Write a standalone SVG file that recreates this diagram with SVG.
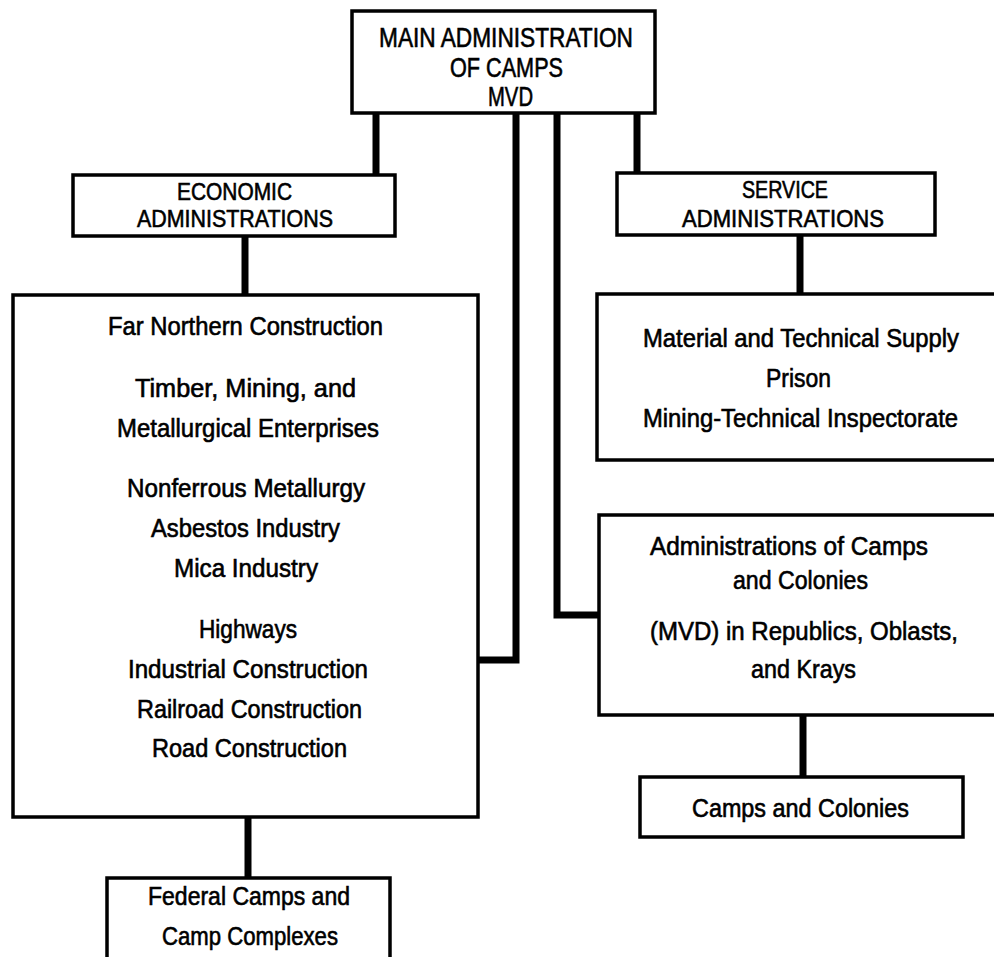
<svg xmlns="http://www.w3.org/2000/svg" width="994" height="957" viewBox="0 0 994 957">
<style>
.box{fill:#fff;stroke:#000;stroke-width:3.5}
.con{fill:none;stroke:#000;stroke-width:7;stroke-linejoin:miter;stroke-linecap:butt}
text{font-family:"Liberation Sans Narrow","Liberation Sans",Arial,sans-serif;fill:#000;stroke:#000;stroke-width:0.6;text-anchor:middle}
.cap{font-size:27px}
.cap2{font-size:24px}
.lc{font-size:25px}
</style>
<rect width="994" height="957" fill="#fff"/>
<g id="connectors">
<path class="con" d="M376,113 V175"/>
<path class="con" d="M637,113 V173"/>
<path class="con" d="M516,113 V660 H478"/>
<path class="con" d="M557,113 V615 H599"/>
<path class="con" d="M245,236 V295"/>
<path class="con" d="M248,817 V878"/>
<path class="con" d="M800,236 V294"/>
<path class="con" d="M803,715 V777"/>
</g>
<g id="main">
<rect class="box" x="352" y="11" width="303" height="102"/>
<text class="cap" x="506" y="47" textLength="254" lengthAdjust="spacingAndGlyphs">MAIN ADMINISTRATION</text>
<text class="cap" x="506.5" y="77" textLength="113" lengthAdjust="spacingAndGlyphs">OF CAMPS</text>
<text class="cap" x="510.5" y="106" textLength="45" lengthAdjust="spacingAndGlyphs">MVD</text>
</g>
<g id="economic">
<rect class="box" x="73" y="175" width="322" height="61"/>
<text class="cap2" x="234.5" y="200" textLength="115" lengthAdjust="spacingAndGlyphs">ECONOMIC</text>
<text class="cap2" x="235" y="227" textLength="196" lengthAdjust="spacingAndGlyphs">ADMINISTRATIONS</text>
</g>
<g id="service">
<rect class="box" x="617" y="173" width="318" height="62"/>
<text class="cap2" x="785" y="198" textLength="86" lengthAdjust="spacingAndGlyphs">SERVICE</text>
<text class="cap2" x="783" y="227" textLength="202" lengthAdjust="spacingAndGlyphs">ADMINISTRATIONS</text>
</g>
<g id="enterprises">
<rect class="box" x="13" y="295" width="465" height="522"/>
<text class="lc" x="245.5" y="335" textLength="275" lengthAdjust="spacingAndGlyphs">Far Northern Construction</text>
<text class="lc" x="245.5" y="397" textLength="221" lengthAdjust="spacingAndGlyphs">Timber, Mining, and</text>
<text class="lc" x="248" y="437" textLength="262" lengthAdjust="spacingAndGlyphs">Metallurgical Enterprises</text>
<text class="lc" x="246" y="497" textLength="238" lengthAdjust="spacingAndGlyphs">Nonferrous Metallurgy</text>
<text class="lc" x="245.5" y="537" textLength="189" lengthAdjust="spacingAndGlyphs">Asbestos Industry</text>
<text class="lc" x="246" y="577" textLength="144" lengthAdjust="spacingAndGlyphs">Mica Industry</text>
<text class="lc" x="248" y="638" textLength="98" lengthAdjust="spacingAndGlyphs">Highways</text>
<text class="lc" x="248" y="678" textLength="240" lengthAdjust="spacingAndGlyphs">Industrial Construction</text>
<text class="lc" x="249.5" y="718" textLength="225" lengthAdjust="spacingAndGlyphs">Railroad Construction</text>
<text class="lc" x="249.5" y="757" textLength="195" lengthAdjust="spacingAndGlyphs">Road Construction</text>
</g>
<g id="federal">
<rect class="box" x="107" y="878" width="283" height="90"/>
<text class="lc" x="249" y="905" textLength="202" lengthAdjust="spacingAndGlyphs">Federal Camps and</text>
<text class="lc" x="250" y="945" textLength="176" lengthAdjust="spacingAndGlyphs">Camp Complexes</text>
</g>
<g id="supply">
<rect class="box" x="597" y="294" width="410" height="166"/>
<text class="lc" x="801" y="347" textLength="316" lengthAdjust="spacingAndGlyphs">Material and Technical Supply</text>
<text class="lc" x="798.5" y="387" textLength="65" lengthAdjust="spacingAndGlyphs">Prison</text>
<text class="lc" x="800.5" y="427" textLength="315" lengthAdjust="spacingAndGlyphs">Mining-Technical Inspectorate</text>
</g>
<g id="regional">
<rect class="box" x="599" y="515" width="410" height="200"/>
<text class="lc" x="789" y="555" textLength="278" lengthAdjust="spacingAndGlyphs">Administrations of Camps</text>
<text class="lc" x="800.5" y="589" textLength="135" lengthAdjust="spacingAndGlyphs">and Colonies</text>
<text class="lc" x="804" y="640" textLength="308" lengthAdjust="spacingAndGlyphs">(MVD) in Republics, Oblasts,</text>
<text class="lc" x="803.5" y="678" textLength="105" lengthAdjust="spacingAndGlyphs">and Krays</text>
</g>
<g id="camps">
<rect class="box" x="640" y="777" width="323" height="60"/>
<text class="lc" x="800.5" y="817" textLength="217" lengthAdjust="spacingAndGlyphs">Camps and Colonies</text>
</g>
</svg>
